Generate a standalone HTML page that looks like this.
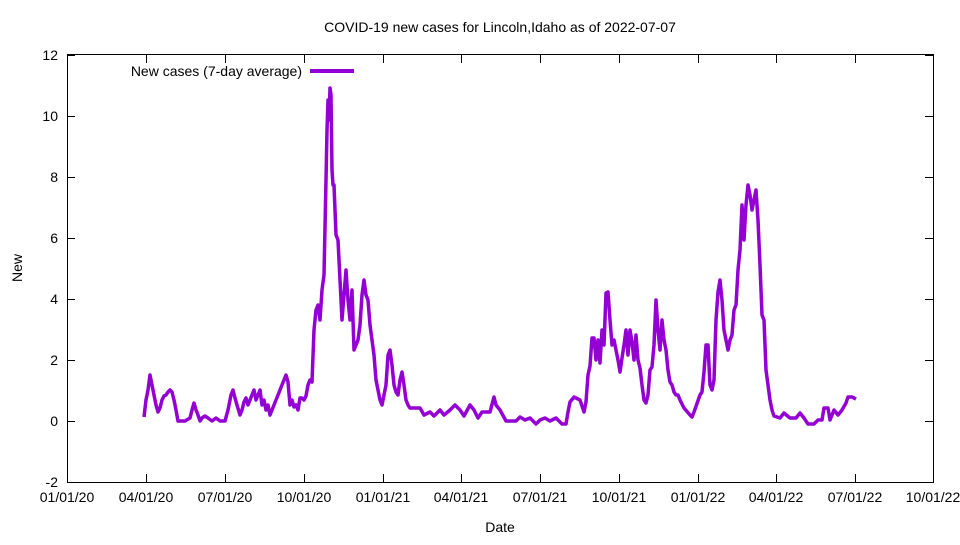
<!DOCTYPE html>
<html><head><meta charset="utf-8"><style>body{margin:0;background:#fff}svg text{font-family:"Liberation Sans",sans-serif;font-size:14px;fill:#000}</style></head><body>
<svg width="960" height="540" viewBox="0 0 960 540" xmlns="http://www.w3.org/2000/svg">
<rect x="67.5" y="54.5" width="866" height="428" fill="none" stroke="#000" stroke-width="1"/>
<g stroke="#000" stroke-width="1">
<path d="M67 55.5h8M933 55.5h-8M67 116.5h8M933 116.5h-8M67 177.5h8M933 177.5h-8M67 238.5h8M933 238.5h-8M67 299.5h8M933 299.5h-8M67 360.5h8M933 360.5h-8M67 421.5h8M933 421.5h-8"/>
<path d="M146.5 482v-8M146.5 55v8M225.5 482v-8M225.5 55v8M304.5 482v-8M304.5 55v8M383.5 482v-8M383.5 55v8M461.5 482v-8M461.5 55v8M540.5 482v-8M540.5 55v8M619.5 482v-8M619.5 55v8M698.5 482v-8M698.5 55v8M776.5 482v-8M776.5 55v8M855.5 482v-8M855.5 55v8"/>
</g>
<g text-anchor="end">
<text x="58" y="60">12</text><text x="58" y="121">10</text><text x="58" y="182">8</text><text x="58" y="243">6</text><text x="58" y="304">4</text><text x="58" y="365">2</text><text x="58" y="426">0</text><text x="58" y="487">-2</text>
</g>
<g text-anchor="middle">
<text x="67" y="502">01/01/20</text><text x="146" y="502">04/01/20</text><text x="225" y="502">07/01/20</text><text x="304" y="502">10/01/20</text><text x="383" y="502">01/01/21</text><text x="461" y="502">04/01/21</text><text x="540" y="502">07/01/21</text><text x="619" y="502">10/01/21</text><text x="698" y="502">01/01/22</text><text x="776" y="502">04/01/22</text><text x="855" y="502">07/01/22</text><text x="933" y="502">10/01/22</text>
<text x="500" y="532">Date</text>
<text x="500" y="32">COVID-19 new cases for Lincoln,Idaho as of 2022-07-07</text>
<text x="22" y="268" transform="rotate(-90 22 268)">New</text>
</g>
<text x="302" y="76" text-anchor="end">New cases (7-day average)</text>
<path d="M310 71h44" stroke="#9400d3" stroke-width="4"/>
<polyline fill="none" stroke="#9400d3" stroke-width="3.5" stroke-linejoin="round" points="144,417 146,400 148,390 150,375 152,385 154,395 156,405 158,412 160,408 162,400 164,396 166,395 168,392 170,390 172,392 174,400 176,410 178,421 185,421 190,418 192,410 194,403 196,410 198,415 200,421 202,418 205,416 208,418 212,421 216,418 220,421 225,421 228,410 231,395 233,390 235,398 237,405 240,415 242,410 244,402 246,398 248,405 250,400 252,395 254,390 256,400 258,395 260,390 262,405 264,400 266,410 268,405 270,415 272,410 274,405 276,400 278,395 280,390 282,385 284,380 286,375 288,382 290,405 292,400 294,407 296,405 298,410 300,398 302,398 304,400 306,396 308,385 310,380 312,382 314,330 316,310 318,305 320,320 322,290 324,275 326,180 327,130 328,100 329,120 330,88 331,95 332,170 333,185 334,185 336,235 338,240 340,280 342,320 344,295 346,270 348,300 350,320 352,290 354,350 356,345 358,340 360,325 362,295 364,280 366,295 368,300 370,325 372,340 374,355 376,380 378,390 380,400 382,405 384,395 386,385 388,355 390,350 392,365 394,385 396,392 398,395 400,380 402,372 404,385 406,400 408,405 410,408 420,408 424,415 430,412 434,416 440,410 444,415 450,410 455,405 460,410 464,416 470,405 474,410 478,418 482,412 490,412 494,397 496,405 500,410 506,421 516,421 520,417 525,420 530,418 536,424 540,420 545,418 550,421 556,418 562,424 566,424 568,412 570,402 574,397 580,400 584,412 586,402 588,375 590,366 592,338 594,338 596,360 598,340 600,363 602,330 604,345 606,293 608,292 610,320 612,345 614,340 616,350 618,360 620,372 622,358 624,345 626,330 628,355 630,330 632,342 634,360 636,335 638,360 640,368 642,385 644,400 646,403 648,395 650,370 652,367 654,345 656,300 658,330 660,350 662,320 664,340 666,350 668,370 670,382 672,385 674,392 676,395 678,395 680,400 684,408 690,415 692,417 694,412 700,395 702,392 704,372 706,345 708,345 710,385 712,390 714,380 716,320 718,292 720,280 722,300 724,330 726,340 728,350 730,340 732,335 734,310 736,305 738,270 740,250 742,205 744,240 746,205 748,185 750,195 752,210 754,200 756,190 758,220 760,265 762,315 764,320 766,370 768,385 770,400 772,410 774,416 780,418 784,413 790,418 796,418 800,413 804,418 808,424 814,424 818,420 822,420 824,408 828,408 830,420 834,410 838,415 842,410 846,403 848,397 852,397 856,399"/>
</svg>
</body></html>
